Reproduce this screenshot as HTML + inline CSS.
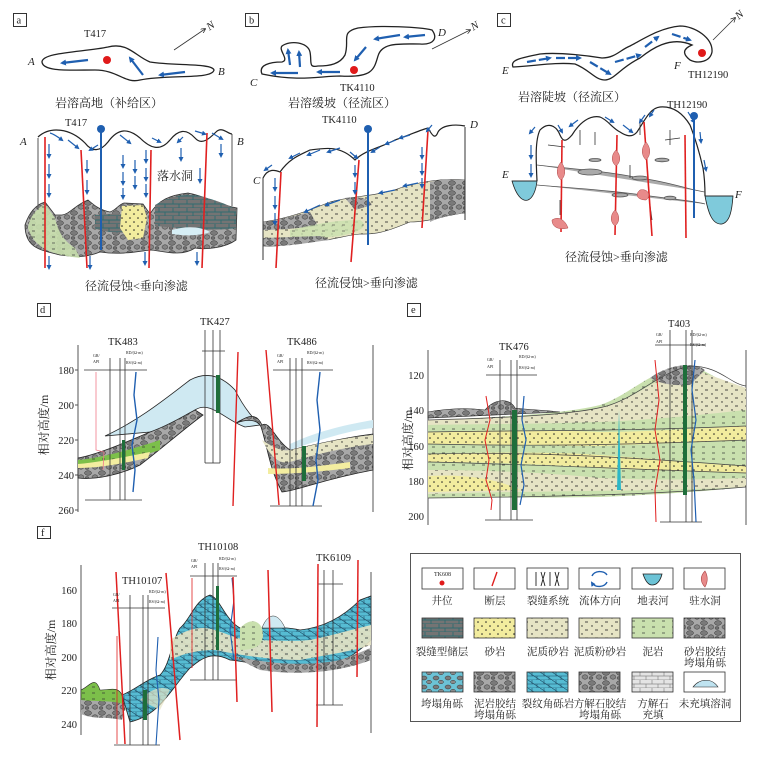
<!DOCTYPE html>
<html><head><meta charset="utf-8"><style>
html,body{margin:0;padding:0;background:#fff;}
svg{display:block;font-family:"Liberation Serif","Noto Serif CJK SC","Noto Sans CJK SC",serif;}
.cap{font-size:12px;fill:#222;}
.lbl{font-size:10.5px;fill:#222;}
.it{font-style:italic;font-size:11px;fill:#222;}
.ax{font-size:10.5px;fill:#222;}
.sm{font-size:4px;fill:#222;}
.lg{font-size:10.5px;fill:#222;}
</style></head><body>
<svg width="758" height="759" viewBox="0 0 758 759" xmlns="http://www.w3.org/2000/svg">
<defs>
<pattern id="rub" width="14" height="10" patternUnits="userSpaceOnUse">
<rect width="14" height="10" fill="#a8a8a8"/>
<ellipse cx="4" cy="3" rx="3.5" ry="2.3" fill="#7a7a7a" stroke="#333" stroke-width="0.5"/>
<ellipse cx="11" cy="7" rx="3" ry="2.2" fill="#858585" stroke="#333" stroke-width="0.5"/>
<ellipse cx="3" cy="8" rx="2" ry="1.5" fill="#6e6e6e" stroke="#333" stroke-width="0.4"/>
</pattern>
<pattern id="brk" width="14" height="8" patternUnits="userSpaceOnUse">
<rect width="14" height="8" fill="#747474"/>
<path d="M0 4H14M0 8H14M5 0V4M11 4V8" stroke="#2f6b70" stroke-width="0.9"/>
</pattern>
<pattern id="sand" width="8" height="8" patternUnits="userSpaceOnUse">
<rect width="8" height="8" fill="#f2ec9e"/><circle cx="2" cy="2" r="0.8" fill="#222"/><circle cx="6" cy="6" r="0.8" fill="#222"/>
</pattern>
<pattern id="silt" width="10" height="8" patternUnits="userSpaceOnUse">
<rect width="10" height="8" fill="#e6e4c4"/><circle cx="2" cy="2" r="0.7" fill="#222"/><path d="M5 6h3" stroke="#222" stroke-width="0.8"/>
</pattern>
<pattern id="mud" width="10" height="6" patternUnits="userSpaceOnUse">
<rect width="10" height="6" fill="#c9e0ae"/><path d="M2 3h3" stroke="#333" stroke-width="0.7"/>
</pattern>
<pattern id="grn" width="10" height="6" patternUnits="userSpaceOnUse">
<rect width="10" height="6" fill="#7cbf4a"/><path d="M2 3h3" stroke="#333" stroke-width="0.7"/>
</pattern>
<pattern id="cyr" width="12" height="9" patternUnits="userSpaceOnUse">
<rect width="12" height="9" fill="#6cc3d6"/>
<ellipse cx="4" cy="3" rx="3" ry="2" fill="#7a7a7a" stroke="#333" stroke-width="0.5"/>
<ellipse cx="9" cy="7" rx="2.5" ry="1.7" fill="#8a8a8a" stroke="#333" stroke-width="0.5"/>
</pattern>
<pattern id="cyb" width="12" height="8" patternUnits="userSpaceOnUse">
<rect width="12" height="8" fill="#56bcd3"/><path d="M0 4H12M0 8H12M4 0V4M9 4V8M0 0L12 8" stroke="#1e4d66" stroke-width="0.6"/>
</pattern>
<pattern id="lime" width="12" height="8" patternUnits="userSpaceOnUse">
<rect width="12" height="8" fill="#e4e4e4"/><path d="M0 4H12M0 8H12M4 0V4M10 4V8" stroke="#888" stroke-width="0.7"/>
</pattern>
<marker id="ar" markerWidth="6" markerHeight="6" refX="4" refY="3" orient="auto" markerUnits="userSpaceOnUse"><path d="M0,0 L6,3 L0,6Z" fill="#1f5fb0"/></marker>
<marker id="ar2" markerWidth="5" markerHeight="5" refX="3" refY="2.5" orient="auto" markerUnits="userSpaceOnUse"><path d="M0,0 L5,2.5 L0,5Z" fill="#1f5fb0"/></marker>
<marker id="ka" markerWidth="5" markerHeight="5" refX="4" refY="2.5" orient="auto" markerUnits="userSpaceOnUse"><path d="M0,0 L5,2.5 L0,5" fill="none" stroke="#222" stroke-width="0.7"/></marker>
</defs>

<!-- ============ PANEL A ============ -->
<rect x="13.5" y="13.5" width="13" height="13" fill="#fff" stroke="#333"/>
<text x="16.5" y="23.5" class="lbl" font-size="9">a</text>
<text x="84" y="37" class="lbl">T417</text>
<line x1="174" y1="50" x2="205" y2="29" stroke="#333" stroke-width="0.8" marker-end="url(#ka)"/>
<text x="208" y="30" class="it" font-size="9" transform="rotate(-35 210 28)">N</text>
<text x="28" y="65" class="it">A</text><text x="218" y="75" class="it">B</text>
<path d="M42,62 C42,52 85,52 108,47 C128,42 135,56 150,62 C175,66 212,63 214,70 C212,80 168,74 140,80 C125,84 118,70 95,70 C70,70 43,72 42,62Z" fill="#fff" stroke="#222" stroke-width="1.3"/>
<circle cx="107" cy="60" r="4" fill="#e01a1a"/>
<g stroke="#1f5fb0" stroke-width="2.2" fill="none" marker-end="url(#ar)">
<line x1="88" y1="60" x2="62" y2="63"/><line x1="143" y1="75" x2="130" y2="58"/><line x1="185" y1="72" x2="160" y2="75"/>
</g>
<text x="55" y="107" class="cap">岩溶高地（补给区）</text>
<text x="65" y="126" class="lbl">T417</text>
<text x="20" y="145" class="it">A</text><text x="237" y="145" class="it">B</text>
<path d="M25,225 C30,210 38,204 45,202 L55,215 L62,215 C70,214 75,205 88,200 C95,206 100,210 110,212 C116,210 118,205 124,203 L143,204 L150,214 C158,200 170,195 188,193 C205,196 220,205 237,208 L236,240 C225,248 205,250 195,248 C180,258 160,250 150,250 C135,252 120,255 100,252 C85,258 75,257 60,255 C40,250 25,248 25,225Z" fill="url(#rub)" stroke="#333" stroke-width="0.8"/>
<path d="M155,205 C170,196 185,193 200,196 C215,200 230,205 236,210 L236,228 C210,232 180,228 155,226Z" fill="url(#brk)"/>
<path d="M95,215 C110,213 125,214 140,216 L140,232 C120,234 100,232 95,228Z" fill="url(#brk)"/>
<path d="M28,228 C30,215 38,208 45,204 L55,218 C58,230 62,240 75,248 L80,258 C55,255 35,250 28,228Z" fill="url(#mud)" opacity="0.9"/>
<path d="M122,206 L143,205 L147,218 L143,238 L128,240 L120,228Z" fill="url(#sand)"/>
<path d="M172,230 C185,226 200,226 210,232 C200,236 185,236 172,234Z" fill="#d6eef5"/>
<path d="M38,138 L38,210 M232,134 L232,206" stroke="#555" stroke-width="1" fill="none"/>
<path d="M38,137 C50,126 70,128 85,143 C92,152 100,152 108,142 C118,128 128,128 140,138 C150,148 160,152 170,140 C178,130 186,128 195,138 C202,146 210,138 216,132 C222,126 228,134 232,134" fill="none" stroke="#222" stroke-width="1.2"/>
<g stroke="#e02020" stroke-width="1.6"><line x1="45" y1="137" x2="45" y2="268"/><line x1="81" y1="150" x2="87" y2="268"/><line x1="151" y1="150" x2="149" y2="268"/><line x1="207" y1="133" x2="202" y2="268"/></g>
<line x1="101" y1="130" x2="101" y2="250" stroke="#1f5fb0" stroke-width="2"/><circle cx="101" cy="129" r="4" fill="#1f5fb0"/>
<g stroke="#1f5fb0" stroke-width="1.2" marker-end="url(#ar2)">
<line x1="49" y1="144" x2="49" y2="157"/><line x1="49" y1="164" x2="49" y2="177"/><line x1="49" y1="184" x2="49" y2="196"/>
<line x1="87" y1="160" x2="87" y2="172"/><line x1="87" y1="180" x2="87" y2="193"/>
<line x1="123" y1="155" x2="123" y2="167"/><line x1="123" y1="172" x2="123" y2="184"/><line x1="123" y1="188" x2="123" y2="198"/>
<line x1="135" y1="160" x2="135" y2="172"/><line x1="135" y1="176" x2="135" y2="188"/><line x1="146" y1="150" x2="146" y2="162"/><line x1="146" y1="168" x2="146" y2="180"/><line x1="146" y1="184" x2="146" y2="196"/>
<line x1="181" y1="148" x2="181" y2="160"/><line x1="200" y1="168" x2="200" y2="182"/><line x1="221" y1="144" x2="221" y2="156"/>
<line x1="49" y1="256" x2="49" y2="268"/><line x1="90" y1="256" x2="90" y2="268"/><line x1="145" y1="252" x2="145" y2="264"/><line x1="197" y1="252" x2="197" y2="264"/>
<path d="M50,133 C54,134 58,137 62,140" fill="none"/><path d="M68,140 L78,148" /><path d="M98,145 L90,150"/><path d="M120,135 L130,143"/><path d="M152,138 L160,142"/><path d="M183,137 L178,142"/><path d="M195,131 L205,134"/><path d="M212,133 L222,139"/>
</g>
<text x="157" y="180" class="cap">落水洞</text>
<text x="85" y="290" class="cap">径流侵蚀&lt;垂向渗滤</text>

<!-- ============ PANEL B ============ -->
<rect x="245.5" y="13.5" width="13" height="13" fill="#fff" stroke="#333"/>
<text x="249" y="23.5" class="lbl" font-size="9">b</text>
<text x="250" y="86" class="it">C</text><text x="438" y="36" class="it">D</text>
<line x1="432" y1="49" x2="470" y2="30" stroke="#333" stroke-width="0.8" marker-end="url(#ka)"/>
<text x="472" y="30" class="it" font-size="9" transform="rotate(-30 474 28)">N</text>
<path d="M262,74 C258,65 270,62 282,62 C290,60 278,50 282,46 C290,40 308,42 310,52 C312,62 308,68 318,66 C330,66 340,64 345,55 C350,40 340,32 358,28 C380,25 420,27 432,30 C438,38 434,45 420,44 C400,44 382,42 378,56 C374,70 372,78 340,76 C320,76 300,82 262,74Z" fill="#fff" stroke="#222" stroke-width="1.3"/>
<circle cx="354" cy="70" r="4" fill="#e01a1a"/>
<g stroke="#1f5fb0" stroke-width="2.2" fill="none" marker-end="url(#ar)">
<line x1="298" y1="73" x2="272" y2="73"/><line x1="290" y1="65" x2="288" y2="50"/><line x1="300" y1="67" x2="299" y2="52"/><line x1="340" y1="72" x2="318" y2="72"/><line x1="366" y1="47" x2="355" y2="60"/><line x1="400" y1="35" x2="375" y2="39"/><line x1="425" y1="35" x2="405" y2="37"/>
</g>
<text x="340" y="91" class="lbl">TK4110</text>
<text x="288" y="107" class="cap">岩溶缓坡（径流区）</text>
<text x="322" y="123" class="lbl">TK4110</text>
<text x="253" y="184" class="it">C</text><text x="470" y="128" class="it">D</text>
<path d="M263,222 C290,218 310,210 330,202 C350,196 380,196 400,188 C420,182 440,178 465,180 L465,213 C445,215 430,222 410,222 C395,228 380,235 360,234 C340,236 330,242 310,240 C295,244 280,247 263,246Z" fill="url(#silt)" stroke="#333" stroke-width="0.6"/>
<path d="M263,222 C280,220 300,214 310,212 L318,226 C300,228 280,230 263,230Z" fill="url(#rub)"/>
<path d="M345,198 C360,196 368,198 372,205 L355,210Z" fill="url(#rub)"/>
<path d="M430,182 C445,178 455,180 465,180 L465,213 C450,215 440,217 430,222Z" fill="url(#rub)"/>
<path d="M290,230 C310,226 330,220 360,220 C370,226 360,232 340,236 C320,238 300,240 290,238Z" fill="url(#mud)" opacity="0.8"/>
<path d="M263,238 L263,246 C290,247 310,242 330,240 L320,236Z" fill="url(#rub)"/>
<path d="M263,178 L263,260 M465,127 L465,220" stroke="#333" stroke-width="1" fill="none"/>
<path d="M263,178 C268,168 275,170 280,172 C290,158 300,155 310,150 C325,148 340,145 355,160 C365,150 380,148 395,140 C410,135 420,130 428,128 C432,135 435,140 438,132 C442,125 455,124 465,126" fill="none" stroke="#222" stroke-width="1.2"/>
<g stroke="#e02020" stroke-width="1.6"><line x1="281" y1="172" x2="276" y2="268"/><line x1="359" y1="160" x2="351" y2="262"/><line x1="428" y1="130" x2="422" y2="228"/></g>
<line x1="368" y1="130" x2="368" y2="245" stroke="#1f5fb0" stroke-width="2"/><circle cx="368" cy="129" r="4" fill="#1f5fb0"/>
<g stroke="#1f5fb0" stroke-width="1.2" marker-end="url(#ar2)" fill="none">
<line x1="275" y1="178" x2="275" y2="190"/><line x1="275" y1="196" x2="275" y2="208"/><line x1="275" y1="213" x2="275" y2="224"/>
<line x1="355" y1="165" x2="355" y2="176"/><line x1="355" y1="182" x2="355" y2="193"/>
<line x1="422" y1="147" x2="422" y2="158"/><line x1="422" y1="163" x2="422" y2="174"/><line x1="422" y1="178" x2="422" y2="187"/>
<path d="M300,153 L290,158"/><path d="M320,150 L308,155"/><path d="M340,148 L328,152"/><path d="M350,152 L357,158"/><path d="M380,147 L372,152"/><path d="M396,140 L386,144"/><path d="M410,135 L400,138"/><path d="M432,125 L427,131"/><path d="M272,165 L265,170"/>
<path d="M320,205 L305,212"/><path d="M340,200 L326,205"/><path d="M395,190 L380,193"/><path d="M418,183 L404,186"/>
</g>
<text x="315" y="287" class="cap">径流侵蚀&gt;垂向渗滤</text>

<!-- ============ PANEL C ============ -->
<rect x="497.5" y="13.5" width="13" height="13" fill="#fff" stroke="#333"/>
<text x="501" y="23.5" class="lbl" font-size="9">c</text>
<line x1="713" y1="40" x2="735" y2="18" stroke="#333" stroke-width="0.8" marker-end="url(#ka)"/>
<text x="737" y="19" class="it" font-size="9" transform="rotate(-40 739 17)">N</text>
<text x="502" y="74" class="it">E</text><text x="674" y="69" class="it">F</text>
<path d="M513,67 C510,60 520,58 540,54 C560,52 590,56 602,58 C615,58 620,50 630,46 C645,38 660,28 680,26 C695,26 713,38 712,52 C710,62 698,64 690,60 C685,56 680,50 692,45 C670,35 650,50 640,58 C620,68 614,80 605,80 C595,80 590,70 575,64 C555,62 535,66 513,67Z" fill="#fff" stroke="#222" stroke-width="1.3"/>
<circle cx="702" cy="53" r="4" fill="#e01a1a"/>
<text x="688" y="78" class="lbl">TH12190</text>
<g stroke="#1f5fb0" stroke-width="2.2" fill="none" marker-end="url(#ar)" stroke-dasharray="9 3">
<line x1="527" y1="62" x2="550" y2="58"/><line x1="556" y1="58" x2="580" y2="58"/><line x1="590" y1="62" x2="610" y2="74"/><line x1="615" y1="62" x2="640" y2="55"/><line x1="645" y1="47" x2="658" y2="37"/><line x1="672" y1="34" x2="690" y2="40"/>
</g>
<text x="518" y="101" class="cap">岩溶陡坡（径流区）</text>
<text x="667" y="108" class="lbl">TH12190</text>
<text x="502" y="178" class="it">E</text><text x="735" y="198" class="it">F</text>
<path d="M512,181 C516,195 522,202 528,200 C533,198 536,190 537,181Z" fill="#7fcadb" stroke="#222" stroke-width="0.8"/>
<path d="M705,196 C708,212 712,225 722,224 C730,222 732,210 733,196Z" fill="#7fcadb" stroke="#222" stroke-width="0.8"/>
<path d="M512,181 L537,181 M705,196 L733,196" stroke="#222" stroke-width="0.8"/>
<path d="M537,181 C536,160 535,140 540,130 C548,122 556,125 560,135 C563,142 566,142 572,135 C580,122 590,115 600,117 C608,120 612,128 620,132 C626,136 632,138 637,132 C645,120 650,108 660,107 C672,106 682,112 690,125 C696,140 700,155 703,168 C705,180 705,190 705,196" fill="none" stroke="#222" stroke-width="1.2"/>
<g stroke="#555" stroke-width="0.8" fill="#aaa">
<path d="M537,165 C560,168 600,170 640,178 C670,182 690,190 705,192"/>
<path d="M537,185 C570,188 610,190 650,196 C680,200 700,202 705,204"/>
<ellipse cx="590" cy="172" rx="12" ry="3"/><ellipse cx="640" cy="178" rx="8" ry="2"/><ellipse cx="595" cy="160" rx="6" ry="1.5"/><ellipse cx="662" cy="160" rx="7" ry="1.8"/><ellipse cx="620" cy="195" rx="8" ry="2"/><ellipse cx="670" cy="198" rx="6" ry="1.8"/>
</g>
<g stroke="#333" stroke-width="0.8"><line x1="548" y1="145" x2="565" y2="147"/><line x1="580" y1="130" x2="580" y2="145"/><line x1="595" y1="132" x2="595" y2="145"/><line x1="617" y1="138" x2="617" y2="155"/><line x1="640" y1="120" x2="640" y2="135"/><line x1="670" y1="130" x2="670" y2="145"/><line x1="665" y1="140" x2="680" y2="138"/><line x1="560" y1="200" x2="560" y2="215"/><line x1="630" y1="165" x2="630" y2="178"/><line x1="650" y1="205" x2="652" y2="220"/></g>
<g stroke="#e02020" stroke-width="1.6"><line x1="562" y1="140" x2="561" y2="232"/><line x1="617" y1="135" x2="615" y2="235"/><line x1="644" y1="122" x2="652" y2="236"/><line x1="685" y1="135" x2="686" y2="238"/></g>
<g fill="#e88a8a" stroke="#a44" stroke-width="0.5"><path d="M561,162 C566,168 566,176 561,180 C556,176 556,168 561,162Z"/><path d="M616,150 C621,155 621,162 616,166 C611,162 611,155 616,150Z"/><path d="M646,142 C651,148 651,155 646,160 C641,155 641,148 646,142Z"/><path d="M640,190 C648,188 652,196 646,200 C638,200 634,195 640,190Z"/><path d="M615,210 C620,215 620,222 615,226 C610,222 610,215 615,210Z"/><path d="M552,220 C560,215 566,222 568,228 C560,230 552,228 552,220Z"/></g>
<line x1="694" y1="116" x2="694" y2="218" stroke="#1f5fb0" stroke-width="2"/><circle cx="694" cy="116" r="4" fill="#1f5fb0"/>
<g stroke="#1f5fb0" stroke-width="1.2" marker-end="url(#ar2)" fill="none">
<line x1="531" y1="145" x2="531" y2="158"/><line x1="531" y1="164" x2="531" y2="176"/><path d="M535,127 L530,133"/><path d="M558,125 L562,132"/><path d="M578,120 L570,126"/><path d="M605,117 L613,122"/><path d="M623,125 L632,132"/><path d="M645,115 L640,122"/><path d="M654,110 L650,116"/><path d="M688,112 L694,122"/><line x1="700" y1="132" x2="701" y2="142"/><line x1="704" y1="160" x2="706" y2="170"/>
</g>
<text x="565" y="261" class="cap">径流侵蚀&gt;垂向渗滤</text>

<!-- ============ PANEL D ============ -->
<rect x="37.5" y="303.5" width="13" height="13" fill="#fff" stroke="#333"/>
<text x="40" y="313" class="lbl" font-size="9">d</text>
<line x1="78" y1="345" x2="78" y2="512" stroke="#555"/>
<line x1="373" y1="345" x2="373" y2="512" stroke="#555"/>
<g class="ax" text-anchor="end"><text x="74" y="374">180</text><text x="74" y="409">200</text><text x="74" y="444">220</text><text x="74" y="479">240</text><text x="74" y="514">260</text></g>
<g stroke="#555"><line x1="75" y1="370" x2="78" y2="370"/><line x1="75" y1="405" x2="78" y2="405"/><line x1="75" y1="440" x2="78" y2="440"/><line x1="75" y1="475" x2="78" y2="475"/><line x1="75" y1="510" x2="78" y2="510"/></g>
<text transform="translate(48,425) rotate(-90)" class="cap" text-anchor="middle">相对高度/m</text>
<path d="M105,436 C140,420 170,395 190,380 C205,372 220,374 235,390 C245,410 255,420 260,425 L245,427 C225,420 210,400 195,410 C175,425 160,430 150,432Z" fill="#cfe9f2" stroke="#222" stroke-width="0.8"/>
<path d="M78,458 C95,455 120,445 150,432 C170,425 185,415 195,410 L203,415 C185,428 160,450 140,465 C120,475 95,480 78,478Z" fill="url(#rub)" stroke="#222" stroke-width="0.8"/>
<path d="M78,460 C100,458 130,450 160,440 L160,450 C130,460 100,466 78,466Z" fill="url(#grn)"/>
<path d="M78,464 C100,462 130,456 150,452 L148,458 C120,464 100,468 78,468Z" fill="#f3eda0"/>
<path d="M236,423 C250,418 260,420 262,430 C268,450 270,470 282,492 C300,490 320,480 373,470 L373,434 C340,438 310,446 290,450 C275,440 270,420 262,425 C255,410 245,418 236,423Z" fill="url(#rub)" stroke="#222" stroke-width="0.8"/>
<path d="M262,440 C270,455 278,465 290,462 C310,456 340,448 373,444 L373,435 C340,438 310,446 290,450 C280,452 270,445 262,440Z" fill="url(#silt)"/>
<path d="M268,468 C290,470 320,466 350,462 L350,468 C320,472 290,474 268,474Z" fill="#f3eda0"/>
<path d="M290,450 C320,440 350,430 373,428 L373,420 C350,424 320,430 290,444Z" fill="#cfe9f2"/>
<g stroke="#333" stroke-width="0.8" fill="none">
<line x1="84" y1="370" x2="147" y2="370"/><line x1="110" y1="358" x2="110" y2="500"/><line x1="120" y1="358" x2="120" y2="500"/><line x1="125" y1="358" x2="125" y2="500"/><line x1="85" y1="500" x2="142" y2="500"/>
<line x1="205" y1="330" x2="205" y2="463"/><line x1="213" y1="330" x2="213" y2="463"/><line x1="220" y1="330" x2="220" y2="463"/><line x1="202" y1="351" x2="225" y2="351"/><line x1="205" y1="463" x2="220" y2="463"/>
<line x1="273" y1="370" x2="333" y2="370"/><line x1="290" y1="358" x2="290" y2="506"/><line x1="296" y1="358" x2="296" y2="506"/><line x1="302" y1="358" x2="302" y2="506"/><line x1="270" y1="506" x2="322" y2="506"/>
</g>
<rect x="216" y="375" width="4" height="38" fill="#1e6e3a"/><rect x="122" y="440" width="3" height="30" fill="#1e6e3a"/><rect x="302" y="446" width="4" height="35" fill="#1e6e3a"/>
<path d="M96,372 L96,450 L104,452 L103,470" stroke="#f07a8a" stroke-width="0.8" fill="none"/>
<path d="M136,372 L134,395 L137,420 L132,445 L135,470 L133,492" stroke="#1f5fb0" stroke-width="1.4" fill="none"/>
<path d="M320,372 L317,400 L320,430 L316,460 L318,480 L313,506" stroke="#1f5fb0" stroke-width="1.4" fill="none"/>
<text x="108" y="345" class="lbl">TK483</text><text x="200" y="325" class="lbl">TK427</text><text x="287" y="345" class="lbl">TK486</text>
<text x="93" y="357" class="sm">GR/</text><text x="93" y="363" class="sm">API</text><text x="126" y="354" class="sm">RD/(Ω·m)</text><text x="126" y="364" class="sm">RS/(Ω·m)</text>
<text x="277" y="357" class="sm">GR/</text><text x="277" y="363" class="sm">API</text><text x="307" y="354" class="sm">RD/(Ω·m)</text><text x="307" y="364" class="sm">RS/(Ω·m)</text>
<g stroke="#e02020" stroke-width="1.4"><line x1="238" y1="352" x2="233" y2="506"/><line x1="266" y1="350" x2="279" y2="505"/></g>

<!-- ============ PANEL E ============ -->
<rect x="407.5" y="303.5" width="13" height="13" fill="#fff" stroke="#333"/>
<text x="411" y="313" class="lbl" font-size="9">e</text>
<line x1="428" y1="350" x2="428" y2="525" stroke="#555"/><line x1="746" y1="350" x2="746" y2="525" stroke="#555"/>
<g class="ax" text-anchor="end"><text x="424" y="379">120</text><text x="424" y="414">140</text><text x="424" y="450">160</text><text x="424" y="485">180</text><text x="424" y="520">200</text></g>
<text transform="translate(412,440) rotate(-90)" class="cap" text-anchor="middle">相对高度/m</text>
<path d="M428,420 C480,418 560,415 600,405 C630,395 650,370 685,366 C705,366 720,385 746,388 L746,487 C700,492 650,495 600,497 C540,498 480,497 428,498Z" fill="url(#mud)"/>
<path d="M428,420 C500,418 580,415 610,405 C640,395 660,375 690,368 L746,388 L746,410 C700,415 650,420 600,422 C540,424 480,424 428,425Z" fill="url(#silt)"/>
<path d="M428,432 C500,430 560,430 600,432 C650,432 700,428 746,426 L746,440 C700,442 650,444 600,446 C540,446 480,444 428,444Z" fill="url(#sand)"/>
<path d="M428,454 C500,452 560,452 600,455 C650,458 700,464 746,466 L746,473 C700,472 650,470 600,468 C540,464 480,462 428,462Z" fill="url(#sand)"/>
<path d="M428,470 C500,470 560,474 600,478 C650,480 700,480 746,478 L746,487 C650,492 560,490 428,494Z" fill="url(#silt)"/>
<path d="M428,476 C470,474 500,480 520,490 L428,492Z" fill="url(#sand)"/>
<path d="M428,412 C450,408 470,408 485,410 C495,398 510,398 515,408 C530,410 545,410 560,412 L428,418Z" fill="url(#rub)" stroke="#222" stroke-width="0.6"/>
<path d="M650,378 C665,367 690,360 705,370 L690,385 C675,386 660,384 650,378Z" fill="url(#rub)"/>
<g stroke="#444" stroke-width="0.7" fill="none"><path d="M428,420 C500,418 580,415 610,405 C640,395 660,372 690,366 C720,366 730,384 746,386"/><path d="M428,432 C520,430 600,432 746,426"/><path d="M428,444 C520,446 600,446 746,440"/><path d="M428,454 C520,452 600,455 746,466"/><path d="M428,462 C520,464 600,468 746,473"/><path d="M428,498 C540,497 650,495 746,487"/></g>
<path d="M619,410 L617,490 L621,490Z" fill="#2bb7c7"/>
<g stroke="#333" stroke-width="0.8" fill="none"><line x1="486" y1="375" x2="537" y2="375"/><line x1="500" y1="360" x2="500" y2="520"/><line x1="511" y1="360" x2="511" y2="520"/><line x1="517" y1="360" x2="517" y2="520"/><line x1="485" y1="520" x2="533" y2="520"/>
<line x1="655" y1="345" x2="705" y2="345"/><line x1="670" y1="330" x2="670" y2="522"/><line x1="686" y1="330" x2="686" y2="522"/><line x1="692" y1="330" x2="692" y2="522"/><line x1="660" y1="522" x2="702" y2="522"/></g>
<rect x="512" y="410" width="5" height="100" fill="#1e6e3a"/><rect x="683" y="365" width="4" height="130" fill="#1e6e3a"/>
<path d="M486,396 L490,420 L485,440 L489,460 L486,480 L492,500 L491,510" stroke="#e02020" stroke-width="1" fill="none"/>
<path d="M524,396 L522,420 L526,440 L521,465 L524,485 L520,505" stroke="#1f5fb0" stroke-width="1.2" fill="none"/>
<path d="M655,360 L659,400 L655,430 L660,460 L655,490 L656,522" stroke="#e02020" stroke-width="1" fill="none"/>
<path d="M695,360 L692,390 L696,420 L691,450 L694,480 L696,522" stroke="#1f5fb0" stroke-width="1.2" fill="none"/>
<text x="499" y="350" class="lbl">TK476</text><text x="668" y="327" class="lbl">T403</text>
<text x="487" y="361" class="sm">GR/</text><text x="487" y="368" class="sm">API</text><text x="519" y="358" class="sm">RD/(Ω·m)</text><text x="519" y="369" class="sm">RS/(Ω·m)</text>
<text x="656" y="336" class="sm">GR/</text><text x="656" y="343" class="sm">API</text><text x="690" y="336" class="sm">RD/(Ω·m)</text><text x="690" y="346" class="sm">RS/(Ω·m)</text>

<!-- ============ PANEL F ============ -->
<rect x="37.5" y="526.5" width="13" height="12" fill="#fff" stroke="#333"/>
<text x="41" y="536" class="lbl" font-size="9">f</text>
<line x1="81" y1="565" x2="81" y2="735" stroke="#555"/><line x1="371" y1="572" x2="371" y2="733" stroke="#555"/>
<g class="ax" text-anchor="end"><text x="77" y="594">160</text><text x="77" y="627">180</text><text x="77" y="661">200</text><text x="77" y="694">220</text><text x="77" y="728">240</text></g>
<text transform="translate(55,650) rotate(-90)" class="cap" text-anchor="middle">相对高度/m</text>
<path d="M81,690 C90,686 95,675 100,690 C110,690 118,686 122,695 L125,710 C110,716 95,714 81,712Z" fill="url(#grn)" stroke="#222" stroke-width="0.6"/>
<path d="M81,700 C100,702 115,700 125,705 L122,720 C105,716 95,720 81,714Z" fill="url(#rub)"/>
<path d="M122,695 C135,690 145,680 160,675 C170,665 172,640 180,628 C190,620 195,600 210,595 C220,598 225,620 240,628 C260,630 280,625 300,630 C320,628 340,620 360,600 L371,596 L371,640 C350,660 330,670 300,670 C270,668 250,662 230,660 C210,650 200,660 190,668 C170,690 160,715 130,722Z" fill="url(#cyb)" stroke="#222" stroke-width="0.8"/>
<path d="M170,640 C185,630 200,625 215,630 C230,635 240,640 250,640 C270,640 290,642 310,640 C330,636 350,630 371,625 L371,645 C350,652 320,656 300,660 C270,660 240,655 215,650 C195,650 180,655 170,660Z" fill="url(#silt)" opacity="0.9"/>
<path d="M240,628 C250,618 258,620 262,628 C265,640 262,650 240,650Z" fill="url(#mud)"/>
<path d="M262,628 C268,612 278,612 285,628Z" fill="#cfe9f2" stroke="#222" stroke-width="0.5"/>
<path d="M230,655 C260,662 300,668 340,660 C355,655 365,650 371,648 L371,660 C340,672 300,676 260,670Z" fill="url(#rub)"/>
<path d="M140,700 C150,690 160,685 170,690 L160,710 C150,715 140,712Z" fill="#e6e4c4" opacity="0.7"/>
<g stroke="#333" stroke-width="0.8" fill="none"><line x1="112" y1="608" x2="165" y2="608"/><line x1="130" y1="595" x2="130" y2="745"/><line x1="143" y1="595" x2="143" y2="745"/><line x1="148" y1="595" x2="148" y2="745"/><line x1="114" y1="745" x2="160" y2="745"/>
<line x1="190" y1="576" x2="237" y2="576"/><line x1="205" y1="563" x2="205" y2="680"/><line x1="213" y1="563" x2="213" y2="680"/><line x1="218" y1="563" x2="218" y2="680"/><line x1="190" y1="680" x2="237" y2="680"/>
<line x1="318" y1="584" x2="343" y2="584"/><line x1="324" y1="570" x2="324" y2="705"/><line x1="333" y1="570" x2="333" y2="705"/><line x1="316" y1="705" x2="343" y2="705"/></g>
<rect x="143" y="690" width="4" height="30" fill="#1e6e3a"/><rect x="216" y="586" width="3" height="64" fill="#1e6e3a"/>
<path d="M158,637 L156,670 L159,700 L156,745" stroke="#1f5fb0" stroke-width="1.1" fill="none"/>
<path d="M232,578 L234,600 L230,630 L234,660" stroke="#1f5fb0" stroke-width="1.1" fill="none"/>
<g stroke="#e02020" stroke-width="1.5"><line x1="116" y1="572" x2="125" y2="744"/><line x1="166" y1="573" x2="180" y2="740"/><line x1="233" y1="577" x2="237" y2="702"/><line x1="268" y1="570" x2="272" y2="712"/><line x1="318" y1="564" x2="317" y2="727"/><line x1="358" y1="560" x2="357" y2="677"/></g>
<line x1="192" y1="578" x2="192" y2="668" stroke="#e02020" stroke-width="0.8"/><line x1="117" y1="636" x2="117" y2="744" stroke="#e02020" stroke-width="0.8"/>
<text x="122" y="584" class="lbl">TH10107</text><text x="198" y="550" class="lbl">TH10108</text><text x="316" y="561" class="lbl">TK6109</text>
<text x="113" y="596" class="sm">GR/</text><text x="113" y="602" class="sm">API</text><text x="149" y="593" class="sm">RD/(Ω·m)</text><text x="149" y="603" class="sm">RS/(Ω·m)</text>
<text x="191" y="562" class="sm">GR/</text><text x="191" y="568" class="sm">API</text><text x="219" y="560" class="sm">RD/(Ω·m)</text><text x="219" y="570" class="sm">RS/(Ω·m)</text>

<!-- ============ LEGEND ============ -->
<rect x="410.5" y="553.5" width="330" height="168" fill="#fff" stroke="#555"/>
<g stroke="#333" stroke-width="0.8">
<rect x="422" y="568" width="41" height="21" fill="#fff"/><rect x="474" y="568" width="41" height="21" fill="#fff"/><rect x="527" y="568" width="41" height="21" fill="#fff"/><rect x="579" y="568" width="41" height="21" fill="#fff"/><rect x="632" y="568" width="41" height="21" fill="#fff"/><rect x="684" y="568" width="41" height="21" fill="#fff"/>
<rect x="422" y="618" width="41" height="20" fill="url(#brk)"/><rect x="474" y="618" width="41" height="20" fill="url(#sand)"/><rect x="527" y="618" width="41" height="20" fill="url(#silt)"/><rect x="579" y="618" width="41" height="20" fill="url(#silt)"/><rect x="632" y="618" width="41" height="20" fill="url(#mud)"/><rect x="684" y="618" width="41" height="20" fill="url(#rub)"/>
<rect x="422" y="672" width="41" height="20" fill="url(#cyr)"/><rect x="474" y="672" width="41" height="20" fill="url(#rub)"/><rect x="527" y="672" width="41" height="20" fill="url(#cyb)"/><rect x="579" y="672" width="41" height="20" fill="url(#rub)"/><rect x="632" y="672" width="41" height="20" fill="url(#lime)"/><rect x="684" y="672" width="41" height="20" fill="#fff"/>
</g>
<text x="434" y="576" font-size="6" fill="#222">TK608</text><circle cx="442" cy="583" r="2.5" fill="#e01a1a"/>
<line x1="497" y1="572" x2="492" y2="586" stroke="#e02020" stroke-width="1.4"/>
<g stroke="#222" stroke-width="0.9"><line x1="536" y1="572" x2="536" y2="586"/><line x1="541" y1="572" x2="545" y2="586"/><line x1="545" y1="572" x2="541" y2="586"/><line x1="550" y1="572" x2="550" y2="586"/><line x1="555" y1="572" x2="559" y2="586"/><line x1="559" y1="572" x2="555" y2="586"/></g>
<path d="M592,576 A8,6 0 0 1 607,575 M607,582 A8,6 0 0 1 592,583" stroke="#1f5fb0" stroke-width="1.4" fill="none" marker-end="url(#ar2)"/>
<path d="M643,574 L662,574 C660,582 656,585 652,585 C648,585 645,580 643,574Z" fill="#6cc3d6" stroke="#222" stroke-width="0.8"/>
<path d="M705,571 C700,576 700,582 705,587 C708,582 708,576 705,571Z" fill="#e88a8a" stroke="#a44" stroke-width="0.6"/>
<path d="M693,687 C700,678 712,678 718,687Z" fill="#bfe3f0" stroke="#222" stroke-width="0.6"/>
<g class="lg" text-anchor="middle">
<text x="442" y="604">井位</text><text x="495" y="604">断层</text><text x="548" y="604">裂缝系统</text><text x="600" y="604">流体方向</text><text x="653" y="604">地表河</text><text x="705" y="604">驻水洞</text>
<text x="442" y="655">裂缝型储层</text><text x="495" y="655">砂岩</text><text x="548" y="655">泥质砂岩</text><text x="600" y="655">泥质粉砂岩</text><text x="653" y="655">泥岩</text><text x="705" y="655">砂岩胶结</text><text x="705" y="666">垮塌角砾</text>
<text x="442" y="707">垮塌角砾</text><text x="495" y="707">泥岩胶结</text><text x="495" y="718">垮塌角砾</text><text x="548" y="707">裂纹角砾岩</text><text x="600" y="707">方解石胶结</text><text x="600" y="718">垮塌角砾</text><text x="653" y="707">方解石</text><text x="653" y="718">充填</text><text x="705" y="707">未充填溶洞</text>
</g>
</svg>
</body></html>
